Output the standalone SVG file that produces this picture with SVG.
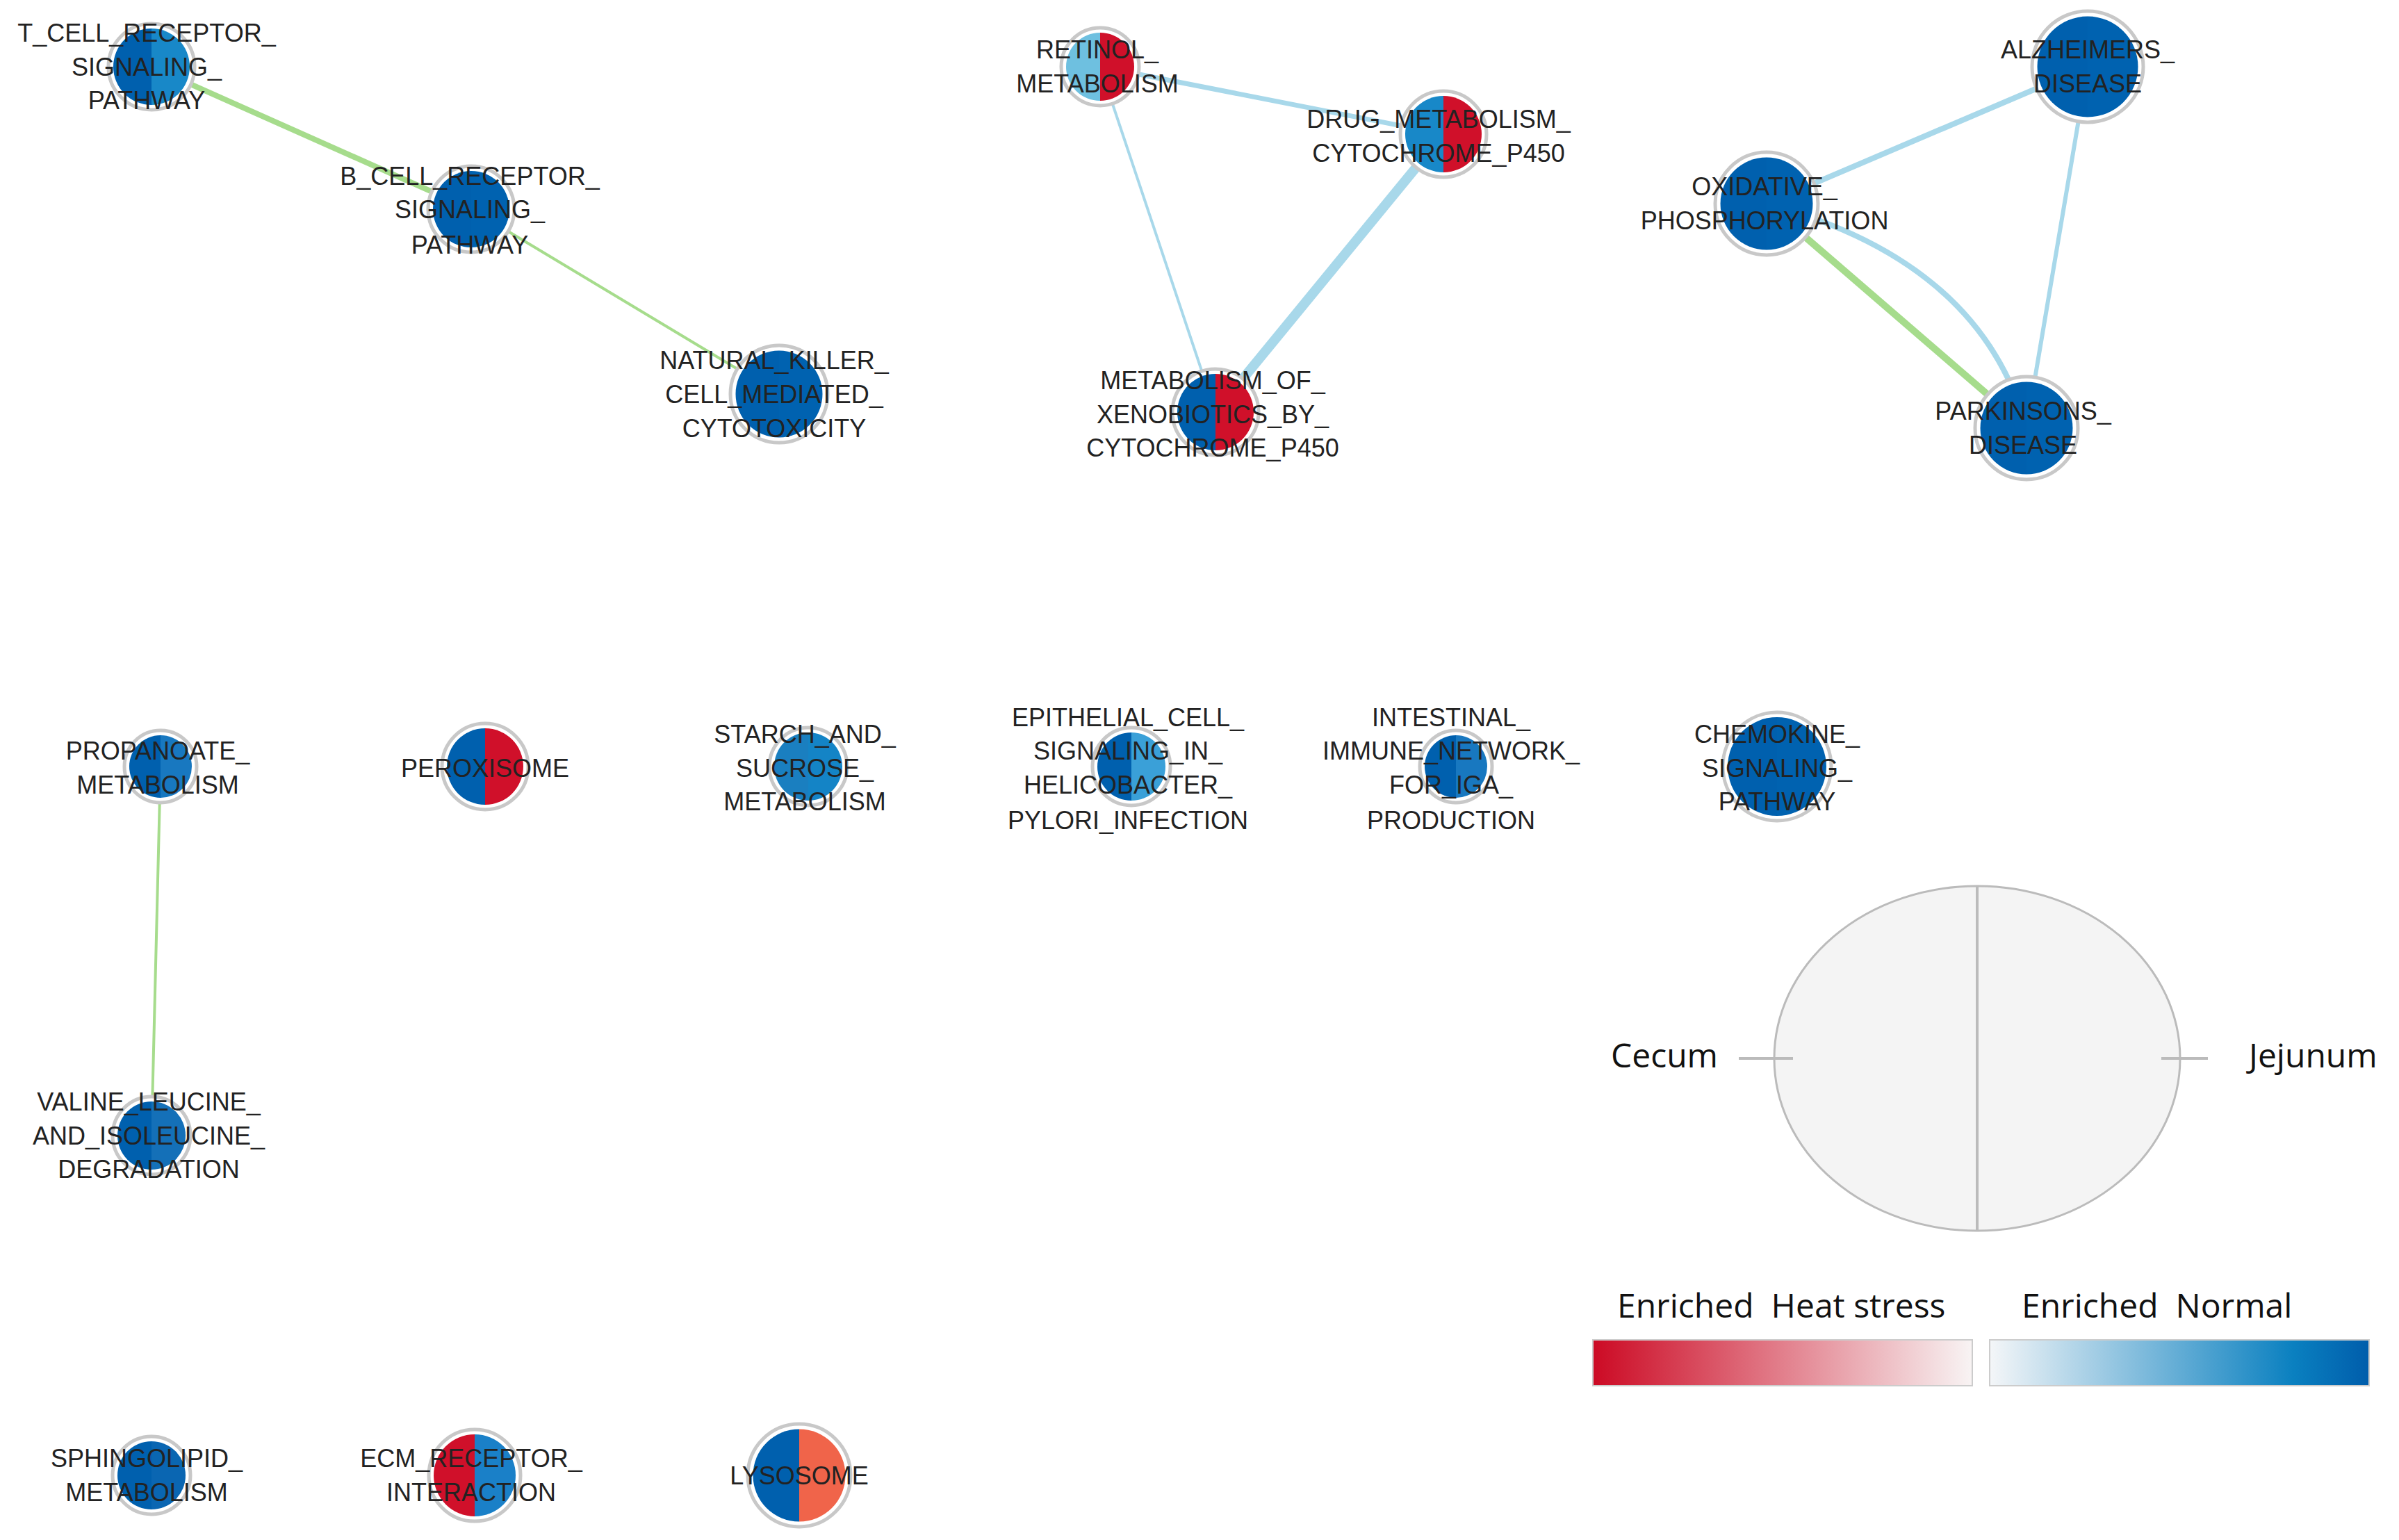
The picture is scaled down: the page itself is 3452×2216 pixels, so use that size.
<svg xmlns="http://www.w3.org/2000/svg" xmlns:xlink="http://www.w3.org/1999/xlink" width="3452" height="2216" viewBox="0 0 3452 2216">
<style>
.lbl{font-family:"Liberation Sans",Arial,sans-serif;font-size:36px;fill:#222;text-anchor:middle;dominant-baseline:central}
.leg{font-family:"Open Sans","Liberation Sans",sans-serif;font-size:48px;fill:#111;white-space:pre}
.ring{fill:#fff;stroke:#c8c8c8;stroke-width:5}
.g{stroke:#a6dc8c;fill:none;stroke-linecap:round}
.b{stroke:#a8d8ea;fill:none;stroke-linecap:round}
</style>
<defs>
<path id="L" d="M0,-50 A50,50 0 0 0 0,50 Z"/>
<path id="R" d="M0,-50 A50,50 0 0 1 0,50 Z"/>
<linearGradient id="gr" x1="0" x2="1"><stop offset="0" stop-color="#cc0a24"/><stop offset="1" stop-color="#f8f4f4"/></linearGradient>
<linearGradient id="gb" x1="0" x2="1"><stop offset="0" stop-color="#f4f6f8"/><stop offset="0.8" stop-color="#0a80c0"/><stop offset="1" stop-color="#005dab"/></linearGradient>
</defs>
<rect width="3452" height="2216" fill="#fff"/>
<g transform="translate(-10,-4)">
<g id="connectors">
<line class="g" x1="228" y1="100" x2="688" y2="305" stroke-width="8"/>
<line class="g" x1="688" y1="305" x2="1131" y2="571" stroke-width="4"/>
<line class="b" x1="1593" y1="100" x2="2087" y2="197" stroke-width="7"/>
<line class="b" x1="1593" y1="100" x2="1759" y2="597" stroke-width="4"/>
<line class="b" x1="2087" y1="197" x2="1759" y2="597" stroke-width="14"/>
<line class="b" x1="3014" y1="100" x2="2552" y2="297" stroke-width="8"/>
<line class="b" x1="3014" y1="100" x2="2926" y2="620" stroke-width="6"/>
<line class="g" x1="2552" y1="297" x2="2926" y2="620" stroke-width="10"/>
<path class="b" d="M2552,297 Q2860,380 2926,620" stroke-width="8"/>
<line class="g" x1="241" y1="1107" x2="228" y2="1638" stroke-width="4"/>
</g>
<g id="n_tcell"><circle class="ring" cx="228" cy="100" r="62"/><use href="#L" fill="#0060ae" transform="translate(228,100) scale(1.1)"/><use href="#R" fill="#1888c8" transform="translate(228,100) scale(1.1)"/>
<text class="lbl" x="221" y="51">T_CELL_RECEPTOR_</text><text class="lbl" x="221" y="100">SIGNALING_</text><text class="lbl" x="221" y="148">PATHWAY</text></g>
<g id="n_bcell"><circle class="ring" cx="688" cy="305" r="62"/><use href="#L" fill="#0060ae" transform="translate(688,305) scale(1.1)"/><use href="#R" fill="#0062b0" transform="translate(688,305) scale(1.1)"/>
<text class="lbl" x="686" y="257">B_CELL_RECEPTOR_</text><text class="lbl" x="686" y="305">SIGNALING_</text><text class="lbl" x="686" y="356">PATHWAY</text></g>
<g id="n_nk"><circle class="ring" cx="1131" cy="571" r="70"/><use href="#L" fill="#0060ae" transform="translate(1131,571) scale(1.25)"/><use href="#R" fill="#0062b0" transform="translate(1131,571) scale(1.25)"/>
<text class="lbl" x="1124" y="522">NATURAL_KILLER_</text><text class="lbl" x="1124" y="571">CELL_MEDIATED_</text><text class="lbl" x="1124" y="620">CYTOTOXICITY</text></g>
<g id="n_retinol"><circle class="ring" cx="1593" cy="100" r="56"/><use href="#L" fill="#6ec0e0" transform="translate(1593,100) scale(0.98)"/><use href="#R" fill="#d0102a" transform="translate(1593,100) scale(0.98)"/>
<text class="lbl" x="1589" y="75">RETINOL_</text><text class="lbl" x="1589" y="124">METABOLISM</text></g>
<g id="n_drug"><circle class="ring" cx="2087" cy="197" r="62"/><use href="#L" fill="#1888c8" transform="translate(2087,197) scale(1.1)"/><use href="#R" fill="#d0102a" transform="translate(2087,197) scale(1.1)"/>
<text class="lbl" x="2080" y="175">DRUG_METABOLISM_</text><text class="lbl" x="2080" y="224">CYTOCHROME_P450</text></g>
<g id="n_xeno"><circle class="ring" cx="1759" cy="597" r="62"/><use href="#L" fill="#0060ae" transform="translate(1759,597) scale(1.1)"/><use href="#R" fill="#d0102a" transform="translate(1759,597) scale(1.1)"/>
<text class="lbl" x="1755" y="551">METABOLISM_OF_</text><text class="lbl" x="1755" y="600">XENOBIOTICS_BY_</text><text class="lbl" x="1755" y="648">CYTOCHROME_P450</text></g>
<g id="n_alz"><circle class="ring" cx="3014" cy="100" r="80"/><use href="#L" fill="#0060ae" transform="translate(3014,100) scale(1.45)"/><use href="#R" fill="#0062b0" transform="translate(3014,100) scale(1.45)"/>
<text class="lbl" x="3014" y="75">ALZHEIMERS_</text><text class="lbl" x="3014" y="124">DISEASE</text></g>
<g id="n_oxphos"><circle class="ring" cx="2552" cy="297" r="74"/><use href="#L" fill="#0060ae" transform="translate(2552,297) scale(1.33)"/><use href="#R" fill="#0062b0" transform="translate(2552,297) scale(1.33)"/>
<text class="lbl" x="2549" y="272">OXIDATIVE_</text><text class="lbl" x="2549" y="321">PHOSPHORYLATION</text></g>
<g id="n_park"><circle class="ring" cx="2926" cy="620" r="74"/><use href="#L" fill="#0060ae" transform="translate(2926,620) scale(1.33)"/><use href="#R" fill="#0062b0" transform="translate(2926,620) scale(1.33)"/>
<text class="lbl" x="2921" y="595">PARKINSONS_</text><text class="lbl" x="2921" y="644">DISEASE</text></g>
<g id="n_propanoate"><circle class="ring" cx="241" cy="1107" r="52"/><use href="#L" fill="#0060ae" transform="translate(241,1107) scale(0.9)"/><use href="#R" fill="#1878c0" transform="translate(241,1107) scale(0.9)"/>
<text class="lbl" x="237" y="1084">PROPANOATE_</text><text class="lbl" x="237" y="1133">METABOLISM</text></g>
<g id="n_peroxisome"><circle class="ring" cx="708" cy="1107" r="62"/><use href="#L" fill="#0060ae" transform="translate(708,1107) scale(1.1)"/><use href="#R" fill="#d0102a" transform="translate(708,1107) scale(1.1)"/>
<text class="lbl" x="708" y="1109">PEROXISOME</text></g>
<g id="n_starch"><circle class="ring" cx="1173" cy="1107" r="56"/><use href="#L" fill="#1a7fc0" transform="translate(1173,1107) scale(0.98)"/><use href="#R" fill="#1484c6" transform="translate(1173,1107) scale(0.98)"/>
<text class="lbl" x="1168" y="1060">STARCH_AND_</text><text class="lbl" x="1168" y="1109">SUCROSE_</text><text class="lbl" x="1168" y="1157">METABOLISM</text></g>
<g id="n_epithelial"><circle class="ring" cx="1638" cy="1107" r="56"/><use href="#L" fill="#0060ae" transform="translate(1638,1107) scale(0.98)"/><use href="#R" fill="#3aa0d8" transform="translate(1638,1107) scale(0.98)"/>
<text class="lbl" x="1633" y="1036">EPITHELIAL_CELL_</text><text class="lbl" x="1633" y="1084">SIGNALING_IN_</text><text class="lbl" x="1633" y="1133">HELICOBACTER_</text><text class="lbl" x="1633" y="1184">PYLORI_INFECTION</text></g>
<g id="n_intestinal"><circle class="ring" cx="2105" cy="1107" r="52"/><use href="#L" fill="#0060ae" transform="translate(2105,1107) scale(0.9)"/><use href="#R" fill="#1878c0" transform="translate(2105,1107) scale(0.9)"/>
<text class="lbl" x="2098" y="1036">INTESTINAL_</text><text class="lbl" x="2098" y="1084">IMMUNE_NETWORK_</text><text class="lbl" x="2098" y="1133">FOR_IGA_</text><text class="lbl" x="2098" y="1184">PRODUCTION</text></g>
<g id="n_chemokine"><circle class="ring" cx="2567" cy="1107" r="78"/><use href="#L" fill="#0060ae" transform="translate(2567,1107) scale(1.42)"/><use href="#R" fill="#0062b0" transform="translate(2567,1107) scale(1.42)"/>
<text class="lbl" x="2567" y="1060">CHEMOKINE_</text><text class="lbl" x="2567" y="1109">SIGNALING_</text><text class="lbl" x="2567" y="1157">PATHWAY</text></g>
<g id="n_valine"><circle class="ring" cx="228" cy="1638" r="56"/><use href="#L" fill="#0060ae" transform="translate(228,1638) scale(0.98)"/><use href="#R" fill="#1470b8" transform="translate(228,1638) scale(0.98)"/>
<text class="lbl" x="224" y="1589">VALINE_LEUCINE_</text><text class="lbl" x="224" y="1638">AND_ISOLEUCINE_</text><text class="lbl" x="224" y="1686">DEGRADATION</text></g>
<g id="n_sphingo"><circle class="ring" cx="228" cy="2127" r="56"/><use href="#L" fill="#0060ae" transform="translate(228,2127) scale(0.98)"/><use href="#R" fill="#0a66b2" transform="translate(228,2127) scale(0.98)"/>
<text class="lbl" x="221" y="2102">SPHINGOLIPID_</text><text class="lbl" x="221" y="2151">METABOLISM</text></g>
<g id="n_ecm"><circle class="ring" cx="693" cy="2127" r="66"/><use href="#L" fill="#d0102a" transform="translate(693,2127) scale(1.18)"/><use href="#R" fill="#1a80c8" transform="translate(693,2127) scale(1.18)"/>
<text class="lbl" x="688" y="2102">ECM_RECEPTOR_</text><text class="lbl" x="688" y="2151">INTERACTION</text></g>
<g id="n_lysosome"><circle class="ring" cx="1160" cy="2127" r="74"/><use href="#L" fill="#0060ae" transform="translate(1160,2127) scale(1.33)"/><use href="#R" fill="#f0644a" transform="translate(1160,2127) scale(1.33)"/>
<text class="lbl" x="1160" y="2127">LYSOSOME</text></g>
<g id="legend">
<ellipse cx="2855" cy="1527" rx="292" ry="248" fill="#f4f4f4" stroke="#bbb" stroke-width="3"/>
<line x1="2855" y1="1279" x2="2855" y2="1775" stroke="#bbb" stroke-width="4"/>
<line x1="2512" y1="1527" x2="2590" y2="1527" stroke="#bbb" stroke-width="4"/>
<line x1="3120" y1="1527" x2="3187" y2="1527" stroke="#bbb" stroke-width="4"/>
<text class="leg" x="2328" y="1540">Cecum</text>
<text class="leg" x="3246" y="1540">Jejunum</text>
<text class="leg" x="2337" y="1900" xml:space="preserve">Enriched  Heat stress</text>
<text class="leg" x="2919" y="1900" xml:space="preserve">Enriched  Normal</text>
<rect x="2302" y="1932" width="546" height="66" fill="url(#gr)" stroke="#ccc" stroke-width="2"/>
<rect x="2873" y="1932" width="546" height="66" fill="url(#gb)" stroke="#ccc" stroke-width="2"/>
</g>
</g>
</svg>
